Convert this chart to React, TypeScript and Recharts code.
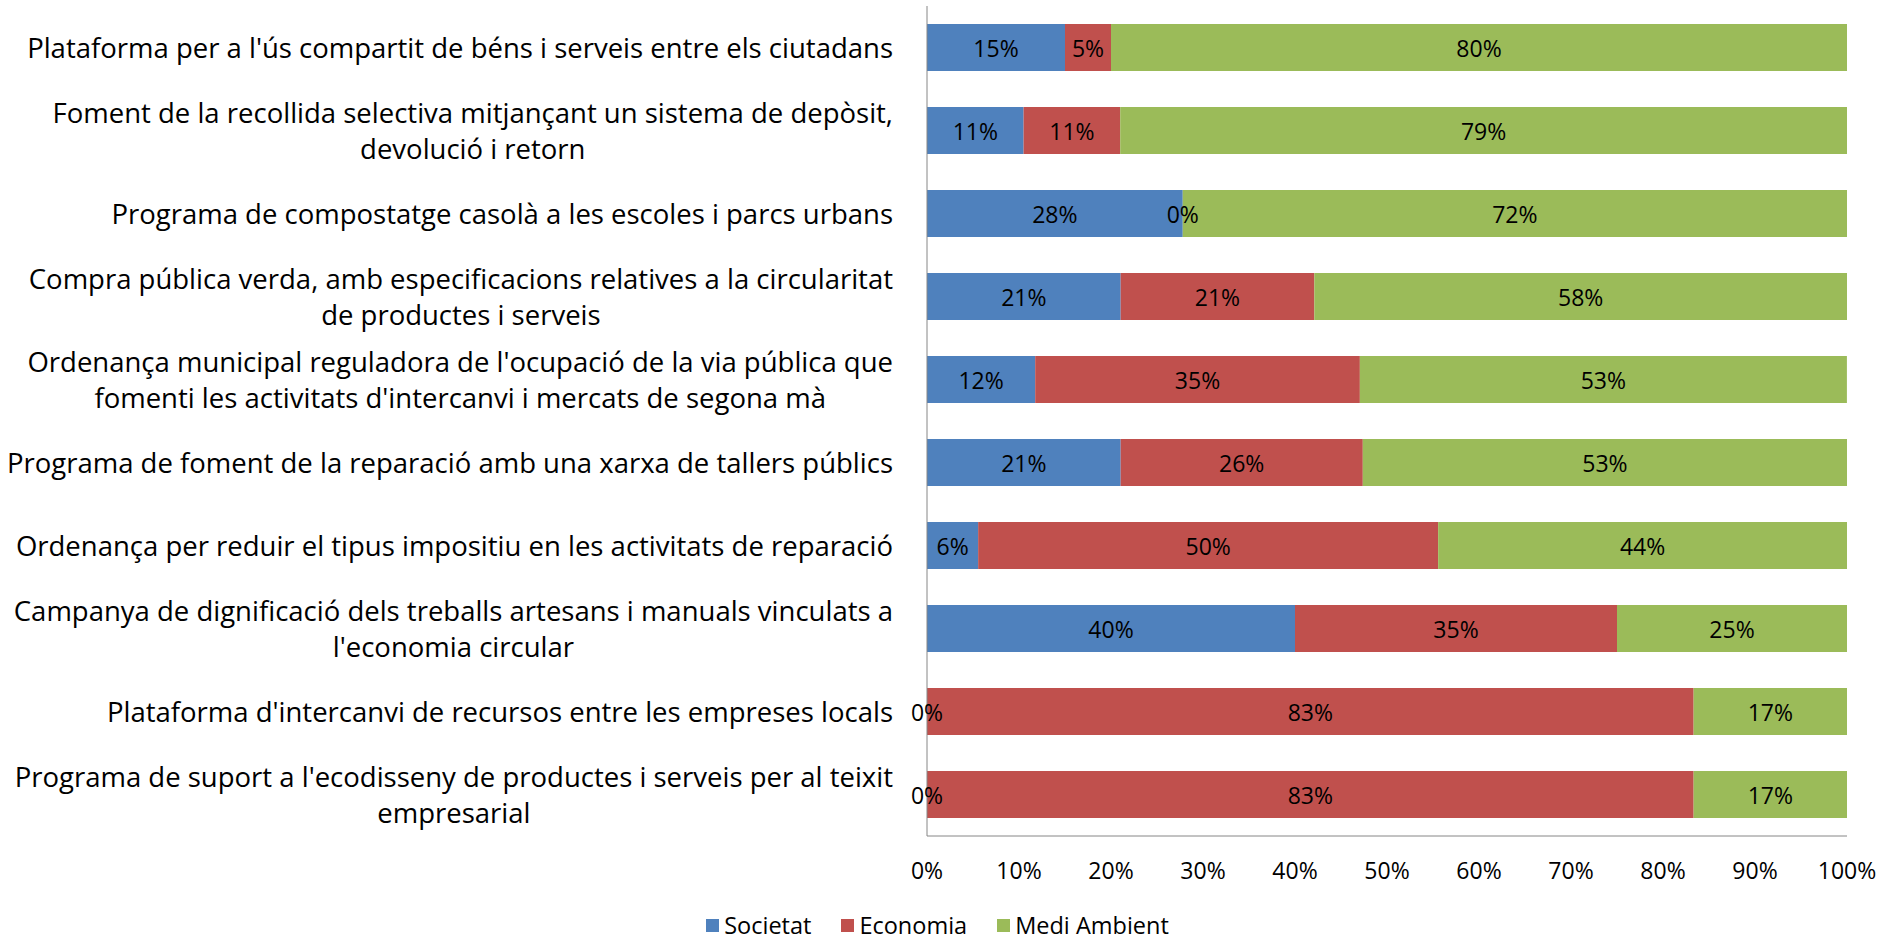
import { BarChart, Bar, XAxis, YAxis, Legend, LabelList } from "recharts";

document.body.style.margin = "0";

const categories = [
  "Plataforma per a l'ús compartit de béns i serveis entre els ciutadans",
  "Foment de la recollida selectiva mitjançant un sistema de depòsit,\ndevolució i retorn",
  "Programa de compostatge casolà a les escoles i parcs urbans",
  "Compra pública verda, amb especificacions relatives a la circularitat\nde productes i serveis",
  "Ordenança municipal reguladora de l'ocupació de la via pública que\nfomenti les activitats d'intercanvi i mercats de segona mà",
  "Programa de foment de la reparació amb una xarxa de tallers públics",
  "Ordenança per reduir el tipus impositiu en les activitats de reparació",
  "Campanya de dignificació dels treballs artesans i manuals vinculats a\nl'economia circular",
  "Plataforma d'intercanvi de recursos entre les empreses locals",
  "Programa de suport a l'ecodisseny de productes i serveis per al teixit\nempresarial",
];

const societat = [15, 10.5, 27.8, 21.05, 11.76, 21.05, 5.56, 40, 0, 0];
const economia = [5, 10.5, 0, 21.05, 35.29, 26.32, 50, 35, 83.33, 83.33];
const mediAmbient = [80, 79, 72.2, 57.9, 52.94, 52.63, 44.44, 25, 16.67, 16.67];

const seriesNames = ["Societat", "Economia", "Medi Ambient"];
const seriesColors = ["#4F81BD", "#C0504D", "#9BBB59"];

const xTicks = [0, 10, 20, 30, 40, 50, 60, 70, 80, 90, 100];

const data = categories.map((name, i) => ({
  name,
  Societat: societat[i],
  Economia: economia[i],
  "Medi Ambient": mediAmbient[i],
}));

const FONT = "'Open Sans', sans-serif";
const LABEL_SIZE = 27.5;
const VALUE_SIZE = 23;

let ctx: CanvasRenderingContext2D | null = null;
const measure = (t: string) => {
  if (!ctx) ctx = document.createElement("canvas").getContext("2d");
  if (!ctx) return t.length * LABEL_SIZE * 0.5;
  ctx.font = `${LABEL_SIZE}px ${FONT}`;
  return ctx.measureText(t).width;
};

const CategoryTick = ({ x, y, payload }: any) => {
  const lines = String(payload.value).split("\n");
  const right = x - 26;
  const w = Math.max(...lines.map(measure));
  const cx = right - w / 2;
  const lh = 36;
  const y0 = y - ((lines.length - 1) * lh) / 2;
  return (
    <g>
      {lines.map((l, i) => (
        <text
          key={i}
          x={lines.length > 1 ? cx : right}
          y={y0 + i * lh}
          textAnchor={lines.length > 1 ? "middle" : "end"}
          dominantBaseline="central"
          fontSize={LABEL_SIZE}
          fill="#000"
        >
          {l}
        </text>
      ))}
    </g>
  );
};

const pct = (v: number) => `${Math.round(v)}%`;

const ValueText = ({ x, y, v }: { x: number; y: number; v: number }) => (
  <text x={x} y={y} textAnchor="middle" dominantBaseline="central" fontSize={VALUE_SIZE} fill="#000">
    {pct(v)}
  </text>
);

// zero-width segments get no label entry from recharts, so their "0%"
// is drawn from the last (always non-zero) segment of the same row
const SegmentLabel = (props: any) => {
  const { x, y, width, height, value } = props;
  if (!(Number(value) > 0)) return null;
  return <ValueText x={x + width / 2} y={y + height / 2} v={Number(value)} />;
};

const LastSegmentLabel = (props: any) => {
  const { x, y, width, height, value, index } = props;
  const cy = y + height / 2;
  const unit = width / Number(value);
  const start = x - (societat[index] + economia[index]) * unit;
  return (
    <g>
      <ValueText x={x + width / 2} y={cy} v={Number(value)} />
      {societat[index] === 0 && <ValueText x={start} y={cy} v={0} />}
      {economia[index] === 0 && <ValueText x={start + societat[index] * unit} y={cy} v={0} />}
    </g>
  );
};

const LegendContent = () => (
  <div
    style={{
      height: 28,
      display: "flex",
      justifyContent: "center",
      alignItems: "center",
      gap: 30,
      fontFamily: FONT,
      fontSize: 23.5,
      color: "#000",
      paddingLeft: 28,
    }}
  >
    {seriesNames.map((n, i) => (
      <div key={n} style={{ display: "flex", alignItems: "center", gap: 5 }}>
        <span style={{ width: 13, height: 13, background: seriesColors[i], display: "inline-block" }} />
        <span>{n}</span>
      </div>
    ))}
  </div>
);

export default function App() {
  return (
    <BarChart
      width={1881}
      height={939}
      data={data}
      layout="vertical"
      barSize={47}
      margin={{ top: 6, right: 34, left: 0, bottom: 0 }}
      style={{ fontFamily: FONT }}
    >
      <XAxis
        type="number"
        domain={[0, 100]}
        ticks={xTicks}
        tickFormatter={(v) => `${v}%`}
        stroke="#868686"
        tickLine={false}
        tick={{ fill: "#000", fontSize: VALUE_SIZE }}
        tickMargin={21}
        height={75}
        interval={0}
      />
      <YAxis
        type="category"
        dataKey="name"
        width={927}
        stroke="#868686"
        tickLine={false}
        tick={<CategoryTick />}
        interval={0}
      />
      <Legend verticalAlign="bottom" height={28} content={<LegendContent />} />
      <Bar dataKey="Societat" stackId="a" fill={seriesColors[0]} isAnimationActive={false}>
        <LabelList dataKey="Societat" content={<SegmentLabel />} />
      </Bar>
      <Bar dataKey="Economia" stackId="a" fill={seriesColors[1]} isAnimationActive={false}>
        <LabelList dataKey="Economia" content={<SegmentLabel />} />
      </Bar>
      <Bar dataKey="Medi Ambient" stackId="a" fill={seriesColors[2]} isAnimationActive={false}>
        <LabelList dataKey="Medi Ambient" content={<LastSegmentLabel />} />
      </Bar>
    </BarChart>
  );
}
